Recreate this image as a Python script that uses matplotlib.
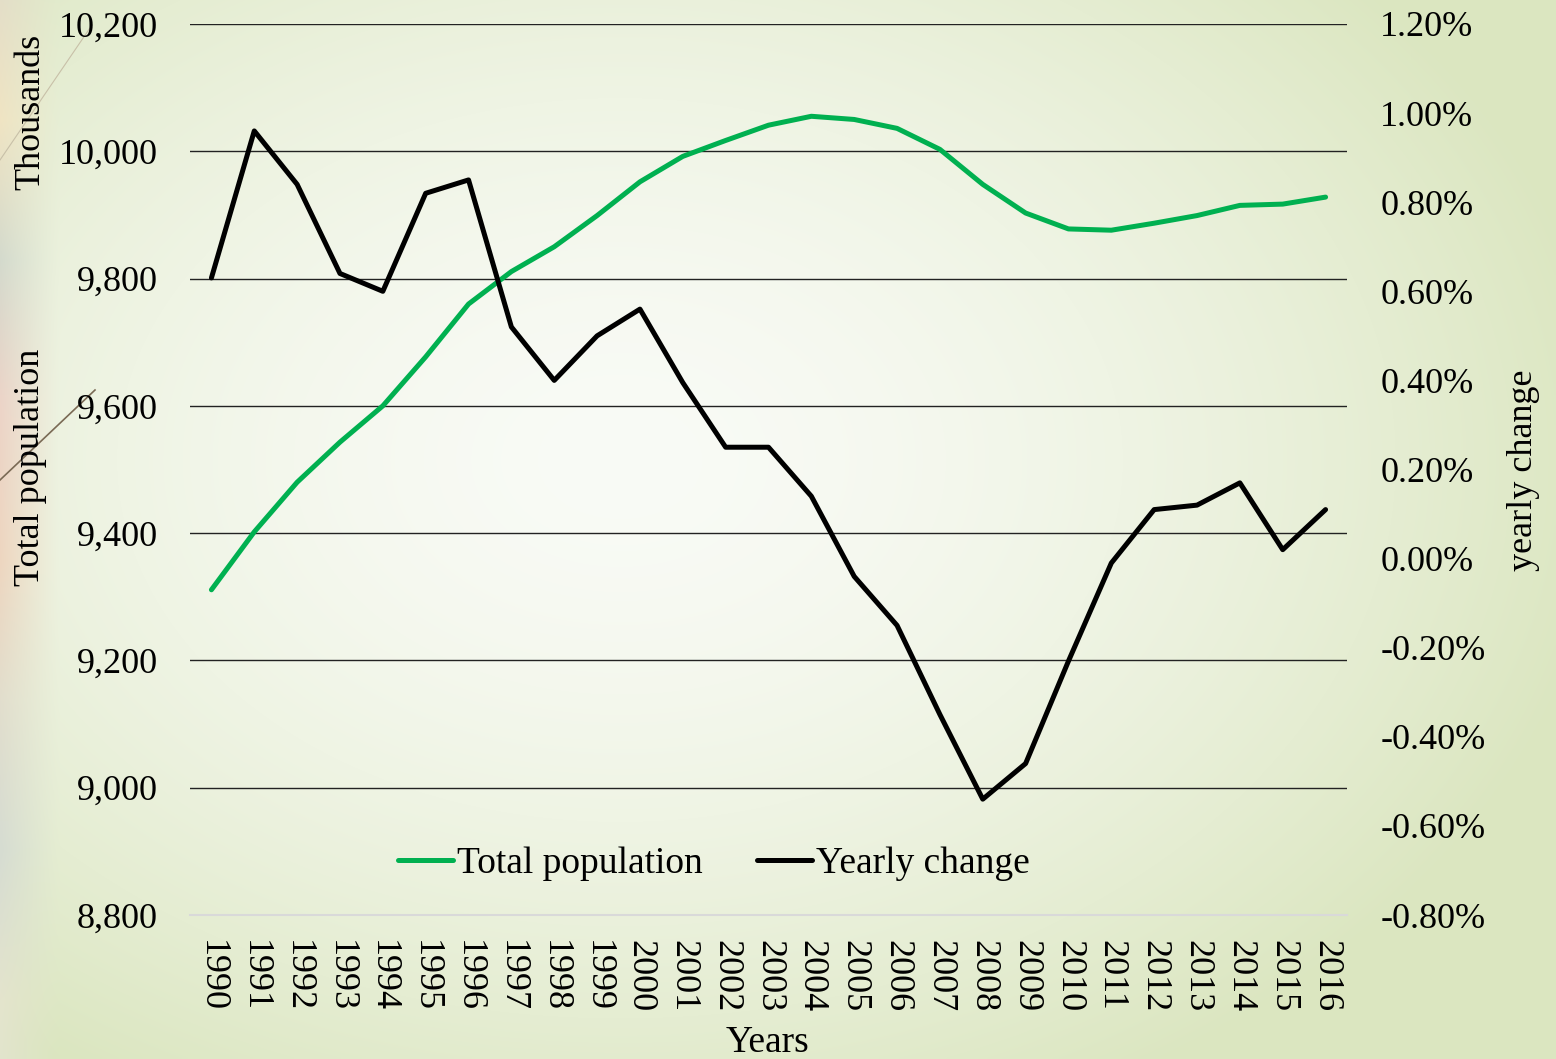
import numpy as np
import matplotlib
matplotlib.use("Agg")
import matplotlib.pyplot as plt
from matplotlib.lines import Line2D
from matplotlib.ticker import FuncFormatter

# ---------------- data ----------------
years = list(range(1990, 2017))
total_population = [9311, 9402, 9480, 9543, 9600, 9677, 9760, 9811, 9850, 9899,
                    9952, 9992, 10017, 10041, 10055, 10050, 10036, 10003, 9948, 9903,
                    9878, 9876, 9887, 9899, 9915, 9917, 9928]
yearly_change = [0.63, 0.96, 0.84, 0.64, 0.60, 0.82, 0.85, 0.52, 0.40, 0.50,
                 0.56, 0.395, 0.25, 0.25, 0.14, -0.04, -0.15, -0.35, -0.54, -0.46,
                 -0.23, -0.01, 0.11, 0.12, 0.17, 0.02, 0.11]
left_ticks = [8800, 9000, 9200, 9400, 9600, 9800, 10000, 10200]
right_ticks = [-0.8, -0.6, -0.4, -0.2, 0.0, 0.2, 0.4, 0.6, 0.8, 1.0, 1.2]

FONT = "Liberation Serif"
plt.rcParams["font.family"] = [FONT, "DejaVu Serif"]
GREEN = "#00B050"

W, H = 1556, 1059
fig = plt.figure(figsize=(W / 100, H / 100), dpi=100)

# ---------------- background ----------------
yy, xx = np.mgrid[0:H, 0:W].astype(float)
d = np.sqrt(((xx - 620) / 1000.0) ** 2 + ((yy - 460) / 720.0) ** 2)
t = np.clip(d, 0, 1) ** 1.6
white = np.array([249, 251, 246], float)
green = np.array([219, 230, 192], float)
bg = white[None, None, :] * (1 - t[..., None]) + green[None, None, :] * t[..., None]
# decorative left strip
stops_y = [0, 120, 260, 400, 560, 700, 850, 1000, 1059]
stops_c = np.array([[228, 222, 200], [240, 228, 195], [212, 218, 205], [236, 212, 200],
                    [238, 214, 192], [226, 222, 205], [214, 220, 210], [228, 228, 205],
                    [226, 228, 205]], float)
col = np.stack([np.interp(np.arange(H), stops_y, stops_c[:, k]) for k in range(3)], axis=1)
s = np.clip(1 - xx / 60.0, 0, 1) ** 1.2
bg = bg * (1 - s[..., None]) + col[:, None, :] * s[..., None]
bgax = fig.add_axes([0, 0, 1, 1], zorder=-10)
bgax.imshow(bg.astype(np.uint8), aspect="auto", extent=[0, 1, 0, 1], interpolation="bilinear")
bgax.axis("off")
fig.add_artist(Line2D([0 / W, 92 / W], [1 - 160 / H, 1 - 25 / H], transform=fig.transFigure,
                      color="#c8c0a8", lw=0.8, zorder=-5))
fig.add_artist(Line2D([0 / W, 95 / W], [1 - 480 / H, 1 - 390 / H], transform=fig.transFigure,
                      color="#7a6a55", lw=1.2, zorder=-5))

# ---------------- main axes ----------------
ax = fig.add_axes([190 / W, 1 - 915 / H, 1157 / W, 891 / H])
ax.patch.set_alpha(0)
ax2 = ax.twinx()

ax.set_xlim(1989.5, 2016.5)
ax.set_ylim(8800, 10200)
ax2.set_ylim(-0.8, 1.2)

for a in (ax, ax2):
    for sp in a.spines.values():
        sp.set_visible(False)
ax.spines["bottom"].set_visible(True)
ax.spines["bottom"].set_color("#d9d9d9")
ax.spines["bottom"].set_linewidth(1.5)

ax.set_yticks(left_ticks)
ax.yaxis.set_major_formatter(FuncFormatter(lambda v, p: f"{v:,.0f}"))
ax2.set_yticks(right_ticks)
ax2.yaxis.set_major_formatter(FuncFormatter(lambda v, p: f"{v:.2f}%"))
ax.set_xticks(years)
ax.set_xticklabels([str(y) for y in years], rotation=-90)

ax.tick_params(axis="y", length=0, pad=23, labelsize=26)
ax2.tick_params(axis="y", length=0, pad=24, labelsize=26)
ax.tick_params(axis="x", length=0, pad=18, labelsize=26)

for v in left_ticks[1:]:
    ax.axhline(v, color="#222222", lw=1.0, zorder=1)

l1, = ax.plot(years, total_population, color=GREEN, lw=3.6, solid_capstyle="round",
              solid_joinstyle="round", zorder=3, label="Total population")
l2, = ax2.plot(years, yearly_change, color="black", lw=3.6, solid_capstyle="round",
               solid_joinstyle="round", zorder=3, label="Yearly change")

ax2.legend([l1, l2], ["Total population", "Yearly change"], loc="center",
           bbox_to_anchor=((714 - 190) / 1157, (915 - 864) / 891), ncol=2, frameon=False,
           fontsize=27, handlelength=1.45, handletextpad=0.12, columnspacing=1.45,
           borderaxespad=0, borderpad=0)

fig.text(31 / W, 1 - 112 / H, "Thousands", rotation=90, ha="center", va="center", fontsize=26)
fig.text(31 / W, 1 - 467 / H, "Total population", rotation=90, ha="center", va="center", fontsize=26)
fig.text(1523 / W, 1 - 470 / H, "yearly change", rotation=90, ha="center", va="center", fontsize=26)
fig.text(768 / W, 1 - 1043 / H, "Years", ha="center", va="center", fontsize=27)

fig.savefig("out.png", dpi=100)
